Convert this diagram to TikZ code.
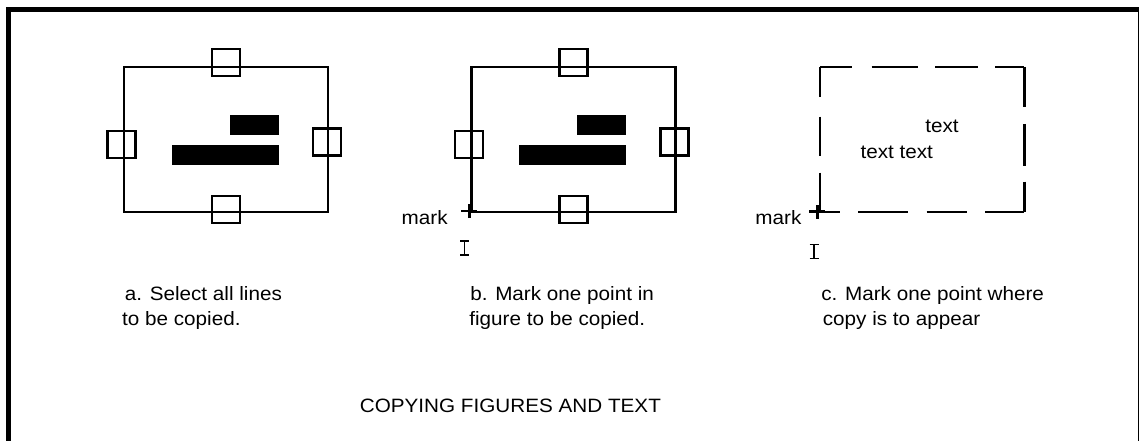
\documentclass[tikz,border=0pt]{standalone}
\usepackage{fontspec}
\setmainfont{Liberation Sans}[FakeStretch=1.07]

\tikzset{
  figline/.style={line width=1.45pt},
  marksign/.style={line width=1.7pt},
  cursor/.style={line width=0.7pt},
  every node/.style={inner sep=0pt}
}

\begin{document}
\begin{tikzpicture}[x=0.02cm,y=0.02cm,font=\fontsize{11}{13}\selectfont]
  \useasboundingbox (0,0) rectangle (1139,440);
  \clip (0,0) rectangle (1139,440);
  \draw[line width=2.8pt] (8.5,-10) rectangle (1140.5,430.7);

  % figures a and b
  \foreach \panel in {0,1} {
    \begin{scope}[xshift=\panel*6.95cm]
      \draw[figline] (124,228) rectangle (328,373);
      \foreach \hx/\hy in {226/377.5, 226/230.5, 121.7/295.5, 327/298} {
        \draw[figline] (\hx-14,\hy-13.5) rectangle ++(28,27);
      }
      \fill (230,305) rectangle (279,325);
      \fill (172,275) rectangle (279,295);
    \end{scope}
  }

  % figure c, the dashed outline
  \foreach \xa/\ya/\xb/\yb in {820/373/851.7/373, 871.7/373/918.3/373, 935/373/978.3/373, 995/373/1024.3/373,
                                1024.3/373/1024.3/332.7, 1024.3/316/1024.3/274, 1024.3/258.3/1024.3/228,
                                820/228/840/228, 858.3/228/908.3/228, 926.7/228/966.7/228, 985/228/1024.3/228,
                                820/373/820/343.3, 820/323.3/820/284, 820/267.3/820/228} {
    \draw[line width=1.6pt] (\xa,\ya) -- (\xb,\yb);
  }
  \node (textone) at (942,307.3) [anchor=base] {text};
  \node (texttwo) at (896.7,281.7) [anchor=base] {text text};

  % marks and cursors
  \foreach \px/\py/\tx/\ix/\iy/\name in {469.3/229/448/464.5/185/b, 817.3/228.3/801.7/814/181.7/c} {
    \draw[marksign] (\px-8,\py) -- (\px+8,\py) (\px,\py-7) -- (\px,\py+7);
    \node (mark\name) at (\tx,215) [anchor=base east] {mark};
    \draw[cursor] (\ix,\iy) -- (\ix,\iy+14) (\ix-4.5,\iy) -- (\ix+4.5,\iy) (\ix-4.5,\iy+14) -- (\ix+4.5,\iy+14);
  }

  % captions
  \node (capa) at (124.5,139.3) [anchor=base west] {a. Select all lines};
  \node (capa2) at (121.8,115) [anchor=base west] {to be copied.};
  \node (capb) at (470,139.3) [anchor=base west] {b. Mark one point in};
  \node (capb2) at (469,115) [anchor=base west] {figure to be copied.};
  \node (capc) at (821,139.3) [anchor=base west] {c. Mark one point where};
  \node (capc2) at (822.5,115) [anchor=base west] {copy is to appear};
  \node (title) at (359.5,27.3) [anchor=base west] {COPYING FIGURES AND TEXT};
\end{tikzpicture}
\end{document}
